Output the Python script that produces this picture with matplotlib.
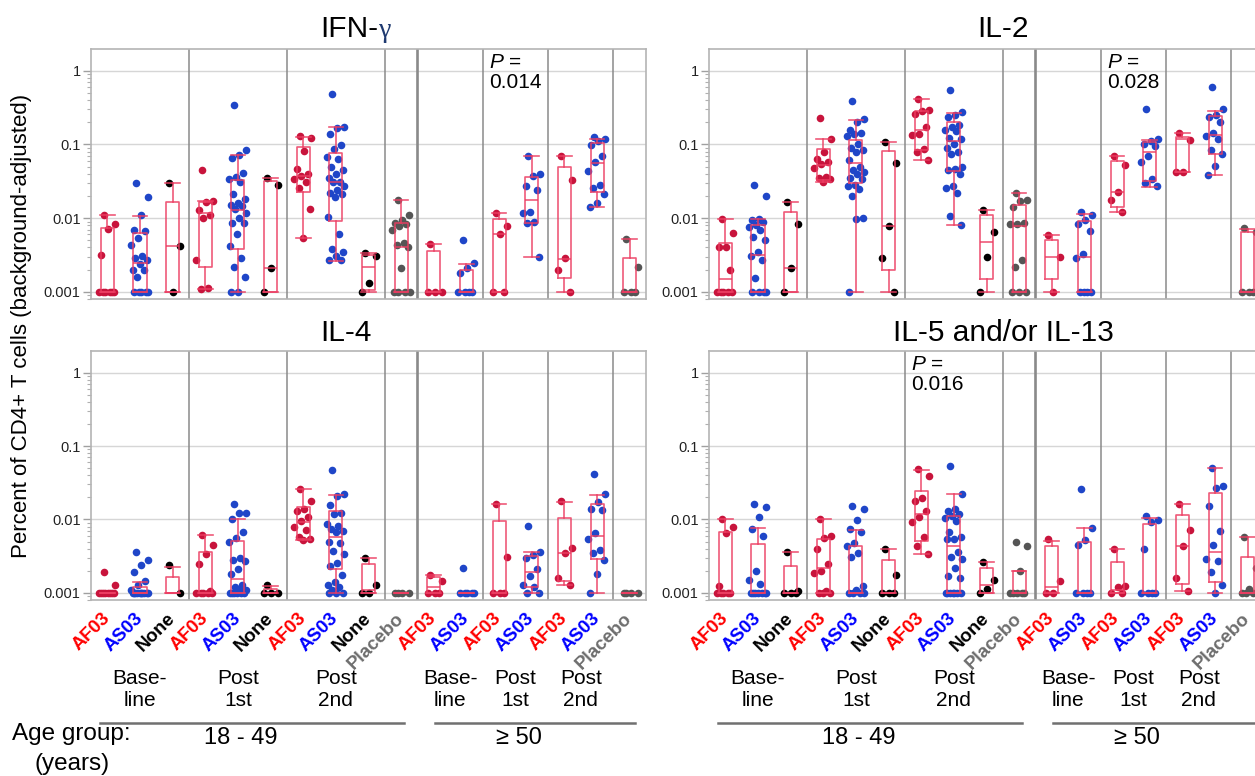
import numpy as np
import matplotlib
matplotlib.use("Agg")
import matplotlib.pyplot as plt
import matplotlib.transforms as mtransforms
from matplotlib.ticker import LogLocator, NullFormatter, FixedLocator

plt.rcParams['font.family'] = ['Liberation Sans', 'DejaVu Sans']
plt.rcParams['mathtext.fontset'] = 'custom'
plt.rcParams['mathtext.it'] = 'Liberation Sans:italic'
plt.rcParams['mathtext.rm'] = 'Liberation Sans'

# ---- categories ----
slot_labels = ['AF03', 'AS03', 'None', 'AF03', 'AS03', 'None', 'AF03', 'AS03', 'None', 'Placebo',
               'AF03', 'AS03', 'AF03', 'AS03', 'AF03', 'AS03', 'Placebo']
separators = [3, 6, 9, 10, 12, 14, 16]
timepoints = ['Base-\nline', 'Post\n1st', 'Post\n2nd', 'Base-\nline', 'Post\n1st', 'Post\n2nd']
timepoint_pos = [1.5, 4.5, 7.5, 11, 13, 15]
age_groups = ['18 - 49', '\u2265 50']

# ---- IFN-gamma ----
ifng_points = [
    [0.011, 0.0082, 0.0072, 0.0032] + [0.001] * 6,
    [0.030, 0.0196, 0.011, 0.0069, 0.0066, 0.0053, 0.0043, 0.0031, 0.0029, 0.0027, 0.0024, 0.002, 0.002, 0.0016] + [0.001] * 5,
    [0.030, 0.0042, 0.001],
    [0.045, 0.0169, 0.0165, 0.0128, 0.0112, 0.0099, 0.0027, 0.00113, 0.0011],
    [0.34, 0.085, 0.071, 0.065, 0.0406, 0.036, 0.034, 0.031, 0.021, 0.0184, 0.016, 0.0151, 0.0145, 0.0135,
     0.0118, 0.010, 0.0087, 0.0085, 0.0061, 0.0042, 0.0029, 0.0022, 0.0016, 0.001, 0.001],
    [0.035, 0.028, 0.0021, 0.001],
    [0.129, 0.124, 0.082, 0.046, 0.040, 0.037, 0.0337, 0.031, 0.026, 0.0133, 0.0053],
    [0.483, 0.173, 0.165, 0.140, 0.097, 0.088, 0.067, 0.063, 0.049, 0.045, 0.040, 0.0345, 0.031, 0.031, 0.0276,
     0.0244, 0.022, 0.021, 0.0193, 0.0104, 0.0060, 0.0038, 0.0035, 0.0031, 0.0027, 0.0027],
    [0.0034, 0.0031, 0.0013, 0.001],
    [0.0178, 0.011, 0.0095, 0.0087, 0.0083, 0.0078, 0.0069, 0.0046, 0.0043, 0.0041, 0.0021] + [0.001] * 4,
    [0.0044, 0.001, 0.001, 0.001],
    [0.005, 0.0025, 0.0021, 0.0018] + [0.001] * 4,
    [0.0118, 0.0079, 0.0061, 0.001, 0.001],
    [0.069, 0.040, 0.037, 0.027, 0.024, 0.012, 0.0119, 0.0090, 0.0087, 0.003],
    [0.070, 0.0327, 0.0029, 0.002, 0.001],
    [0.125, 0.118, 0.110, 0.098, 0.070, 0.058, 0.044, 0.0285, 0.026, 0.0215, 0.0162, 0.0141],
    [0.0052, 0.0022, 0.001, 0.001, 0.001],
]
# whisker low, q1, median, q3, whisker high
ifng_boxes = [
    (0.001, 0.001, 0.001, 0.0073, 0.011), (0.001, 0.001, 0.0025, 0.0062, 0.0107),
    (0.001, 0.001, 0.0042, 0.0168, 0.030), (0.0011, 0.0022, 0.0118, 0.0166, 0.0169),
    (0.001, 0.0038, 0.0129, 0.033, 0.071), (0.001, 0.001, 0.0021, 0.032, 0.035),
    (0.0053, 0.0227, 0.037, 0.092, 0.128), (0.0026, 0.0091, 0.031, 0.076, 0.173),
    (0.001, 0.00105, 0.0022, 0.0032, 0.0034), (0.001, 0.001, 0.004, 0.0086, 0.0178),
    (0.001, 0.001, 0.001, 0.0036, 0.0044), (0.001, 0.001, 0.001, 0.00195, 0.0024),
    (0.001, 0.001, 0.006, 0.0098, 0.0118), (0.003, 0.0086, 0.0175, 0.036, 0.069),
    (0.001, 0.00153, 0.0028, 0.050, 0.070), (0.0142, 0.0227, 0.056, 0.106, 0.119),
    (0.001, 0.001, 0.001, 0.0029, 0.0052),
]

# ---- IL-2 ----
il2_points = [
    [0.0098, 0.0063, 0.0041, 0.0040, 0.002] + [0.001] * 5,
    [0.0285, 0.0202, 0.0097, 0.0094, 0.009, 0.008, 0.0075, 0.007, 0.0056, 0.005, 0.0035, 0.0031, 0.0027, 0.00156] + [0.001] * 4,
    [0.0168, 0.0083, 0.0021, 0.001],
    [0.23, 0.117, 0.078, 0.0635, 0.058, 0.055, 0.048, 0.036, 0.035, 0.034, 0.031],
    [0.39, 0.22, 0.20, 0.155, 0.145, 0.14, 0.129, 0.10, 0.09, 0.085, 0.08, 0.062, 0.05, 0.0445, 0.042, 0.04,
     0.0346, 0.034, 0.028, 0.027, 0.0252, 0.0198, 0.0102, 0.0096, 0.001],
    [0.107, 0.0566, 0.0079, 0.0029, 0.001],
    [0.418, 0.296, 0.28, 0.26, 0.173, 0.139, 0.135, 0.088, 0.078, 0.061],
    [0.553, 0.275, 0.25, 0.235, 0.184, 0.17, 0.155, 0.15, 0.122, 0.12, 0.10, 0.09, 0.08, 0.075, 0.049, 0.047,
     0.045, 0.04, 0.0276, 0.026, 0.022, 0.0108, 0.008],
    [0.0129, 0.0064, 0.003, 0.001],
    [0.0222, 0.0178, 0.0169, 0.0142, 0.0085, 0.0083, 0.0083, 0.0027, 0.0022, 0.001, 0.001, 0.001],
    [0.0059, 0.003, 0.001],
    [0.012, 0.011, 0.0095, 0.0083, 0.0066, 0.0033, 0.0029] + [0.001] * 4,
    [0.0705, 0.053, 0.0229, 0.0175, 0.0122],
    [0.305, 0.12, 0.11, 0.10, 0.094, 0.0705, 0.0585, 0.034, 0.030, 0.027],
    [0.143, 0.114, 0.042, 0.042],
    [0.60, 0.303, 0.254, 0.235, 0.20, 0.143, 0.129, 0.12, 0.085, 0.075, 0.0516, 0.039],
    [0.0073, 0.0065, 0.001, 0.001, 0.001],
]
il2_boxes = [
    (0.001, 0.001, 0.0015, 0.0046, 0.0098), (0.001, 0.001, 0.0032, 0.008, 0.0097),
    (0.001, 0.001, 0.0021, 0.0122, 0.0168), (0.031, 0.0333, 0.0526, 0.087, 0.117),
    (0.001, 0.0303, 0.056, 0.116, 0.212), (0.001, 0.00195, 0.0078, 0.081, 0.107),
    (0.061, 0.083, 0.159, 0.284, 0.418), (0.008, 0.043, 0.111, 0.20, 0.267),
    (0.001, 0.00149, 0.0047, 0.011, 0.0127), (0.001, 0.001, 0.0078, 0.015, 0.0222),
    (0.001, 0.00149, 0.003, 0.0051, 0.0059), (0.001, 0.001, 0.003, 0.0092, 0.0114),
    (0.0122, 0.0142, 0.0227, 0.0597, 0.0705), (0.0265, 0.032, 0.078, 0.107, 0.116),
    (0.042, 0.042, 0.12, 0.126, 0.143), (0.039, 0.075, 0.133, 0.243, 0.287),
    (0.001, 0.001, 0.001, 0.0065, 0.0072),
]

# ---- IL-4 ----
il4_points = [
    [0.0019, 0.0013] + [0.001] * 8,
    [0.0036, 0.0028, 0.0024, 0.0019, 0.00144, 0.0013, 0.0011] + [0.001] * 10,
    [0.0024, 0.001],
    [0.0061, 0.0045, 0.0034, 0.0025, 0.00105] + [0.001] * 5,
    [0.0162, 0.0124, 0.0122, 0.010, 0.0067, 0.0056, 0.005, 0.003, 0.0028, 0.0027, 0.0021, 0.0018, 0.0013,
     0.0012, 0.0011, 0.0011] + [0.001] * 6,
    [0.0013, 0.001, 0.001, 0.001],
    [0.0262, 0.018, 0.0139, 0.013, 0.0107, 0.0095, 0.0079, 0.0072, 0.0057, 0.0055, 0.0052],
    [0.047, 0.0222, 0.021, 0.0155, 0.0122, 0.0118, 0.0087, 0.0082, 0.0074, 0.007, 0.0068, 0.0049, 0.0048,
     0.0037, 0.0034, 0.00256, 0.0023, 0.00174, 0.0014, 0.0013, 0.0012, 0.0011] + [0.001] * 3,
    [0.003, 0.0013, 0.001, 0.001],
    [0.001] * 4,
    [0.00177, 0.00146] + [0.001] * 3,
    [0.0022] + [0.001] * 5,
    [0.0164, 0.0031] + [0.001] * 3,
    [0.0081, 0.00365, 0.0033, 0.003, 0.0021, 0.0017, 0.0013, 0.0012, 0.001, 0.001],
    [0.018, 0.0041, 0.0035, 0.0016, 0.0013],
    [0.0415, 0.0219, 0.0173, 0.0139, 0.0135, 0.0065, 0.0055, 0.0038, 0.0035, 0.0028, 0.0018, 0.001],
    [0.001] * 4,
]
il4_boxes = [
    (0.001, 0.001, 0.001, 0.001, 0.001), (0.001, 0.001, 0.001, 0.00122, 0.0014),
    (0.001, 0.001, 0.001, 0.00165, 0.00228), (0.001, 0.001, 0.001, 0.0036, 0.0061),
    (0.001, 0.001, 0.00153, 0.0051, 0.010), (0.001, 0.001, 0.001, 0.00112, 0.00126),
    (0.0052, 0.0055, 0.0091, 0.0148, 0.0262), (0.001, 0.00214, 0.0058, 0.0129, 0.0213),
    (0.001, 0.001, 0.0011, 0.0025, 0.003), (0.001, 0.001, 0.001, 0.001, 0.001),
    (0.001, 0.001, 0.0012, 0.00167, 0.00177), (0.001, 0.001, 0.001, 0.001, 0.001),
    (0.001, 0.001, 0.001, 0.0096, 0.0164), (0.001, 0.0012, 0.0019, 0.0032, 0.00365),
    (0.0013, 0.00147, 0.0035, 0.0106, 0.0173), (0.001, 0.0029, 0.0059, 0.0162, 0.0213),
    (0.001, 0.001, 0.001, 0.001, 0.001),
]

# ---- IL-5 and/or IL-13 ----
il5_points = [
    [0.0101, 0.008, 0.0065, 0.00124] + [0.001] * 5,
    [0.016, 0.0149, 0.0107, 0.0075, 0.0059, 0.002, 0.00149, 0.00133] + [0.001] * 7,
    [0.0036, 0.00105, 0.001, 0.001, 0.001],
    [0.0101, 0.006, 0.0056, 0.004, 0.0025, 0.002, 0.00187, 0.00105, 0.001, 0.001, 0.001],
    [0.0152, 0.014, 0.0099, 0.0073, 0.0068, 0.0048, 0.0044, 0.0035, 0.0031, 0.00124, 0.0011] + [0.001] * 4,
    [0.004, 0.00174, 0.001, 0.001, 0.001],
    [0.0485, 0.0385, 0.0194, 0.018, 0.013, 0.0109, 0.0091, 0.0057, 0.0043, 0.0034],
    [0.0538, 0.0224, 0.014, 0.013, 0.012, 0.011, 0.0105, 0.0095, 0.0067, 0.0058, 0.0055, 0.0055, 0.0036,
     0.0031, 0.0029, 0.0022, 0.0017, 0.0016] + [0.001] * 7,
    [0.0026, 0.0015, 0.00112, 0.001],
    [0.0049, 0.0043, 0.002] + [0.001] * 5,
    [0.0054, 0.00147, 0.001, 0.001],
    [0.0259, 0.0076, 0.0052, 0.0045] + [0.001] * 4,
    [0.004, 0.00126, 0.0012, 0.001, 0.001],
    [0.0111, 0.0098, 0.0092, 0.004] + [0.001] * 4,
    [0.0162, 0.0071, 0.0044, 0.0016, 0.00106],
    [0.0505, 0.0285, 0.0265, 0.0151, 0.007, 0.0045, 0.0029, 0.0027, 0.0019, 0.0013, 0.001],
    [0.0058, 0.0022, 0.00112, 0.001, 0.001, 0.001],
]
il5_boxes = [
    (0.001, 0.001, 0.001, 0.0067, 0.0102), (0.001, 0.001, 0.001, 0.0047, 0.0076),
    (0.001, 0.001, 0.001, 0.0023, 0.0036), (0.001, 0.001, 0.0022, 0.0055, 0.0101),
    (0.001, 0.001, 0.001, 0.0044, 0.0072), (0.001, 0.001, 0.001, 0.0028, 0.0039),
    (0.0034, 0.0051, 0.0119, 0.0241, 0.047), (0.001, 0.001, 0.0044, 0.011, 0.022),
    (0.001, 0.001, 0.00127, 0.0022, 0.0026), (0.001, 0.001, 0.001, 0.002, 0.002),
    (0.001, 0.001, 0.0012, 0.0043, 0.0051), (0.001, 0.001, 0.001, 0.0049, 0.0076),
    (0.001, 0.001, 0.0011, 0.0026, 0.004), (0.001, 0.001, 0.001, 0.0087, 0.0106),
    (0.00106, 0.00132, 0.0044, 0.0114, 0.0162), (0.001, 0.0014, 0.0036, 0.0226, 0.0505),
    (0.001, 0.001, 0.001, 0.0031, 0.0058),
]

point_colors = {'AF03': '#c8143c', 'AS03': '#1f46c8', 'None': '#000000', 'Placebo': '#555555'}
label_colors = {'AF03': '#ff0000', 'AS03': '#0000ff', 'None': '#000000', 'Placebo': '#6e6e6e'}
box_color = '#ec3d62'

W, H = 1255, 776
fig = plt.figure(figsize=(W / 100, H / 100), dpi=100)


def make_axes(left, top, width, height):
    return fig.add_axes([left / W, 1 - (top + height) / H, width / W, height / H])


def draw_panel(ax, points, boxes, show_labels):
    n = len(slot_labels)
    centers = np.arange(n) + 0.5
    ax.set_yscale('log')
    ax.set_xlim(0, n)
    ax.set_ylim(0.0008, 1.97)
    for y in [0.001, 0.01, 0.1, 1]:
        ax.axhline(y, color='#d6d6d6', lw=1.0, zorder=0)
    for s in separators:
        ax.axvline(s, color='#8a8a8a', lw=1.9 if s == 10 else 1.1, zorder=1)
    for i, vals in enumerate(points):
        k = np.arange(len(vals))
        off = ((k * 0.618034 + 0.31) % 1 - 0.5) * 0.56
        ax.scatter(centers[i] + off, vals, s=30, color=point_colors[slot_labels[i]],
                   linewidths=0, zorder=2)
    stats = [dict(whislo=b[0], q1=b[1], med=b[2], q3=b[3], whishi=b[4], fliers=[]) for b in boxes]
    lp = dict(color=box_color, lw=1.2, alpha=0.85)
    ax.bxp(stats, positions=centers, widths=0.4, capwidths=0.45, showfliers=False,
           boxprops=lp, whiskerprops=lp, capprops=lp, medianprops=lp,
           manage_ticks=False, zorder=3)
    ax.yaxis.set_major_locator(FixedLocator([0.001, 0.01, 0.1, 1]))
    ax.set_yticklabels(['0.001', '0.01', '0.1', '1'])
    ax.yaxis.set_minor_locator(LogLocator(base=10, subs=np.arange(2, 10)))
    ax.yaxis.set_minor_formatter(NullFormatter())
    ax.tick_params(axis='y', which='major', length=6, width=1, color='#a0a0a0',
                   labelsize=10.5, labelcolor='#222222', pad=1.5)
    ax.tick_params(axis='y', which='minor', length=3, width=0.8, color='#b0b0b0')
    for sp in ax.spines.values():
        sp.set_color('#b4b4b4')
        sp.set_linewidth(1.2)
    if show_labels:
        ax.set_xticks(centers)
        ax.set_xticklabels(slot_labels, rotation=45, rotation_mode='anchor', ha='right', va='center',
                           fontsize=13.5, fontweight='bold')
        for t, lab in zip(ax.get_xticklabels(), slot_labels):
            t.set_color(label_colors[lab])
        ax.tick_params(axis='x', length=0, pad=11.5)
    else:
        ax.set_xticks([])


ax_ifng = make_axes(91, 49, 555, 250)
ax_il2 = make_axes(709, 49, 555, 250)
ax_il4 = make_axes(91, 351, 555, 249)
ax_il5 = make_axes(709, 351, 555, 249)

draw_panel(ax_ifng, ifng_points, ifng_boxes, False)
draw_panel(ax_il2, il2_points, il2_boxes, False)
draw_panel(ax_il4, il4_points, il4_boxes, True)
draw_panel(ax_il5, il5_points, il5_boxes, True)

# titles
fig.text(378 / W, 1 - 37 / H, 'IFN-', fontsize=21.5, ha='right', va='baseline')
fig.text(379 / W, 1 - 37 / H, '\u03b3', fontsize=20, ha='left', va='baseline',
         color='#1f3a70', family=['Liberation Serif', 'DejaVu Serif'])
fig.text(1003 / W, 1 - 37 / H, 'IL-2', fontsize=21.5, ha='center', va='baseline')
fig.text(346 / W, 1 - 341 / H, 'IL-4', fontsize=21.5, ha='center', va='baseline')
fig.text(1003 / W, 1 - 341 / H, 'IL-5 and/or IL-13', fontsize=21.5, ha='center', va='baseline')

# P values
for ax, x, txt in [(ax_ifng, 12.2, '0.014'), (ax_il2, 12.2, '0.028'), (ax_il5, 6.2, '0.016')]:
    tr = mtransforms.blended_transform_factory(ax.transData, ax.transAxes)
    ax.text(x, 0.985, '$P$ =\n' + txt, transform=tr, ha='left', va='top', fontsize=15,
            linespacing=1.1, zorder=5)

fig.text(22 / W, 1 - 326 / H, 'Percent of CD4+ T cells (background-adjusted)', rotation=90,
         fontsize=16, ha='center', va='center')

# bottom group labels
for ax, right_end in [(ax_il4, 16.66), (ax_il5, 16.9)]:
    tr = mtransforms.blended_transform_factory(ax.transData, fig.transFigure)
    for pos, lab in zip(timepoint_pos, timepoints):
        top, bot = lab.split('\n')
        ax.text(pos, 1 - 679 / H, top, transform=tr, ha='center', va='center', fontsize=15)
        ax.text(pos, 1 - 701 / H, bot, transform=tr, ha='center', va='center', fontsize=15)
    ax.plot([0.28, 9.59], [1 - 723 / H] * 2, transform=tr, clip_on=False, color='#707070', lw=1.8)
    ax.plot([10.55, right_end], [1 - 723 / H] * 2, transform=tr, clip_on=False, color='#707070', lw=1.8)
    ax.text(4.6, 1 - 738 / H, age_groups[0], transform=tr, ha='center', va='center', fontsize=17)
    ax.text(13.1, 1 - 738 / H, age_groups[1], transform=tr, ha='center', va='center', fontsize=17)

fig.text(12 / W, 1 - 734 / H, 'Age group:', fontsize=17.5, ha='left', va='center')
fig.text(35 / W, 1 - 764 / H, '(years)', fontsize=17.5, ha='left', va='center')

fig.savefig('out.png', dpi=100)
